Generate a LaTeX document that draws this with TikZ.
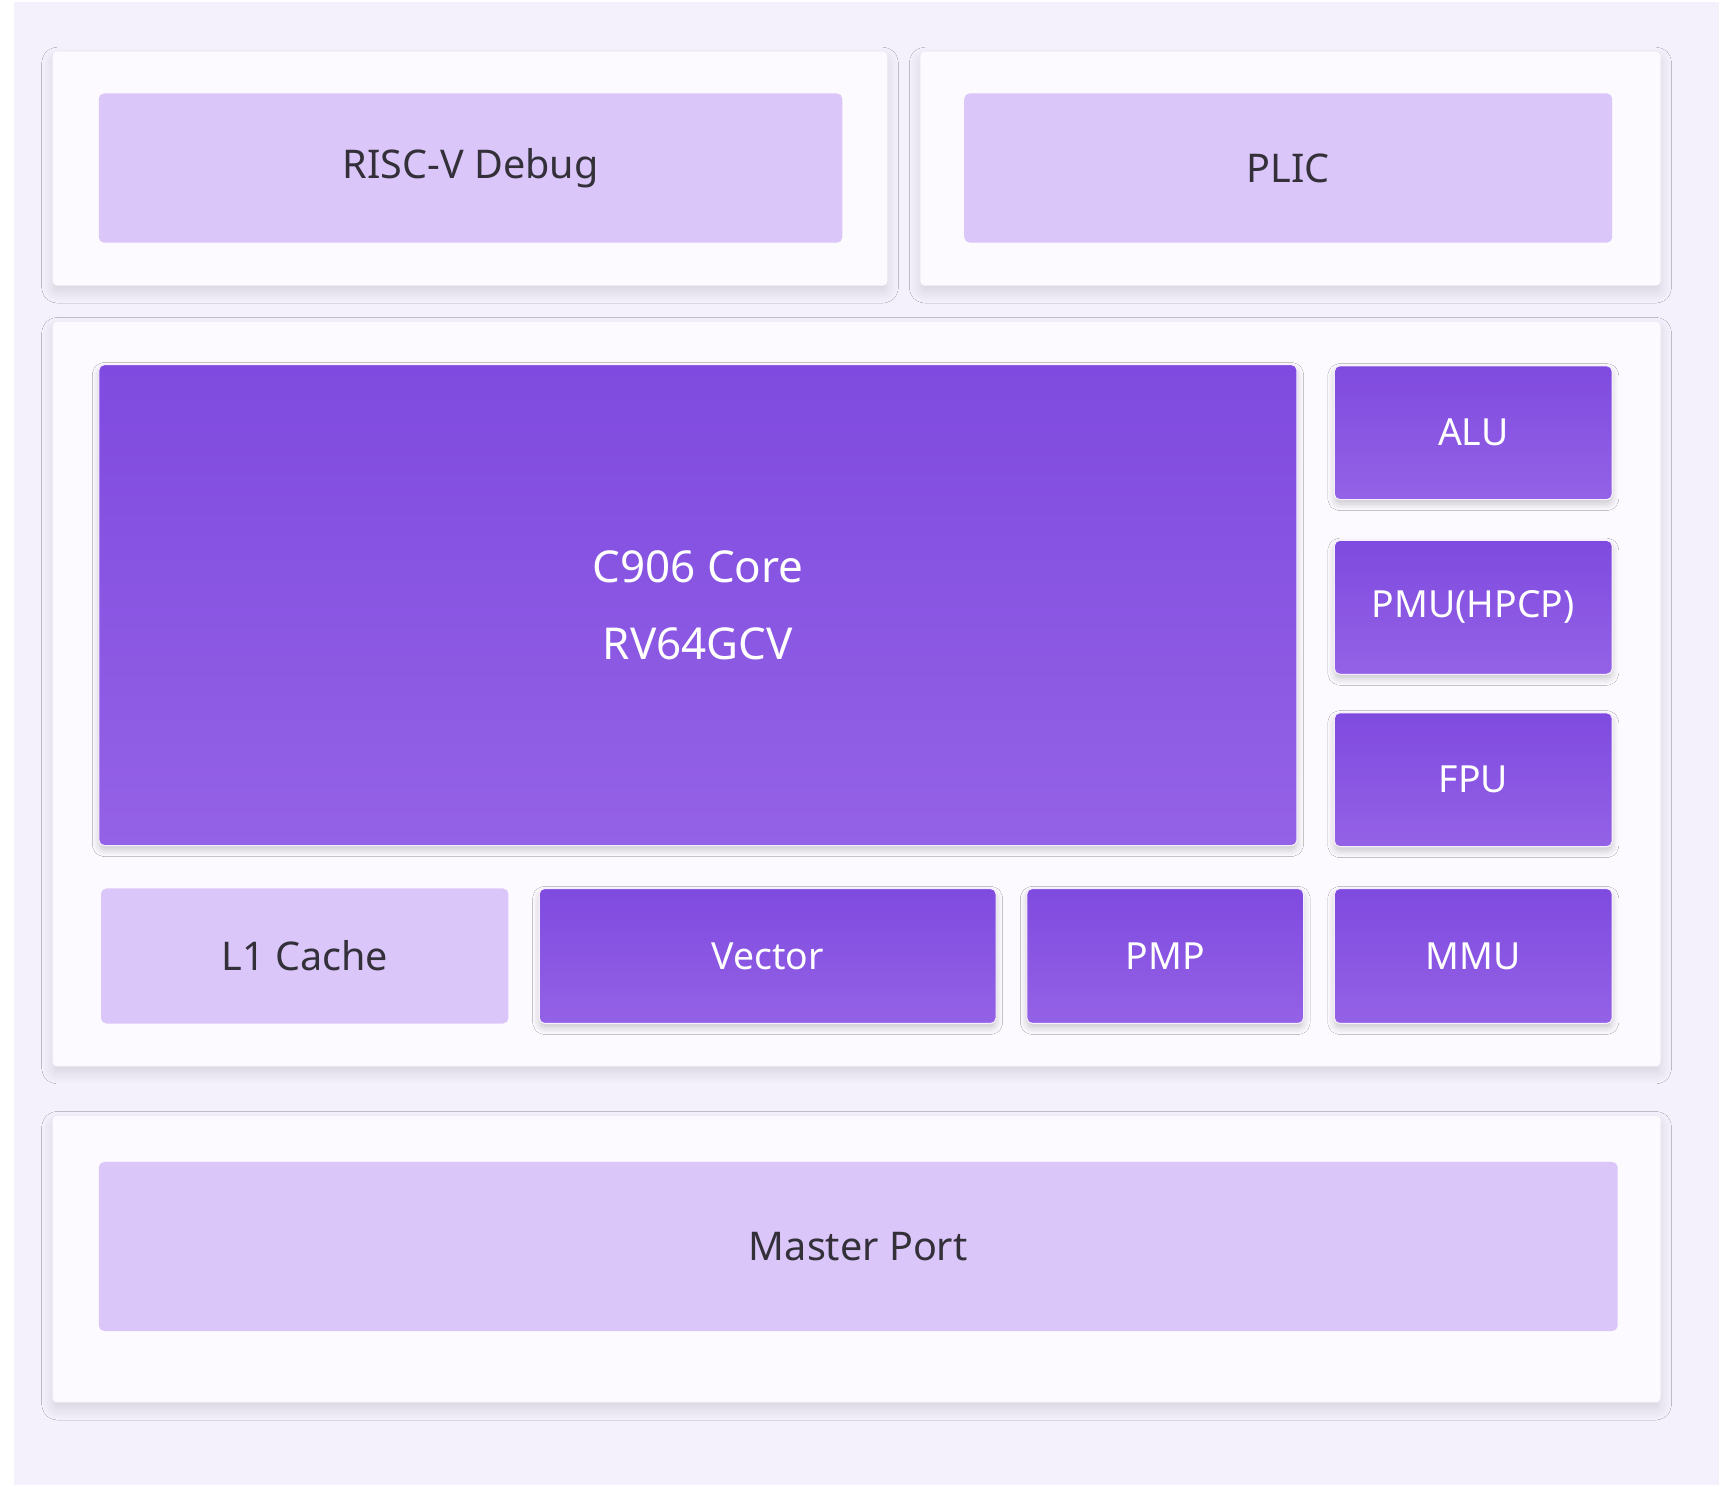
\documentclass[tikz,border=0pt]{standalone}
\usepackage{fontspec}
\setmainfont{Noto Sans}
\usetikzlibrary{shadows.blur}
\definecolor{bgl}{HTML}{F4F0FC}
\definecolor{lite}{HTML}{DBC6F9}
\definecolor{dtop}{HTML}{7F4ADF}
\definecolor{dbot}{HTML}{9462E6}
\definecolor{txt}{HTML}{33303A}
\tikzset{
 panel/.style={fill=white!70!bgl, draw=none, rounded corners=4pt, blur shadow={shadow blur steps=8, shadow xshift=0pt, shadow yshift=-6pt, shadow opacity=12, shadow blur radius=10pt}},
 lbox/.style={fill=lite, rounded corners=5pt, text=txt, font=\fontsize{36}{40}\selectfont},
 dbox/.style={top color=dtop, bottom color=dbot, draw=white!70!lite, line width=1pt, rounded corners=5pt, text=white, font=\fontsize{34}{40}\selectfont, blur shadow={shadow blur steps=6, shadow xshift=0pt, shadow yshift=-4pt, shadow opacity=20, shadow blur radius=6pt}},
}
\newcommand{\bx}[5]{\path[#1] (#2,#3) rectangle (#4,#5);}
\begin{document}
\begin{tikzpicture}[x=1pt,y=-1pt]
\useasboundingbox (0,0) rectangle (1568,1354);
\fill[white] (0,0) rectangle (1568,1354);
\fill[bgl] (13,2) rectangle (1565,1352);
\fill[panel] (48,47) rectangle (808,260);
\fill[panel] (838,47) rectangle (1512,260);
\fill[panel] (48,293) rectangle (1512,971);
\fill[panel] (48,1016) rectangle (1512,1277);
\path[lbox] (90,85) rectangle (767,221) node[midway] (dbg) {RISC-V Debug};
\path[lbox] (878,85) rectangle (1468,221) node[midway] (plic) {PLIC};
\path[dbox] (90,332) rectangle (1181,770) node[midway, align=center, font=\fontsize{40}{70}\selectfont] (core) {C906 Core\\RV64GCV};
\path[dbox] (1215,333) rectangle (1468,455) node[midway] (alu) {ALU};
\path[dbox] (1215,492) rectangle (1468,614) node[midway] (pmu) {PMU(HPCP)};
\path[dbox] (1215,649) rectangle (1468,771) node[midway] (fpu) {FPU};
\path[lbox] (92,809) rectangle (463,932) node[midway] (l1) {L1 Cache};
\path[dbox] (491,809) rectangle (907,932) node[midway] (vec) {Vector};
\path[dbox] (935,809) rectangle (1187,932) node[midway] (pmp) {PMP};
\path[dbox] (1215,809) rectangle (1468,932) node[midway] (mmu) {MMU};
\path[lbox] (90,1058) rectangle (1473,1212) node[midway] (mp) {Master Port};
\end{tikzpicture}
\end{document}
